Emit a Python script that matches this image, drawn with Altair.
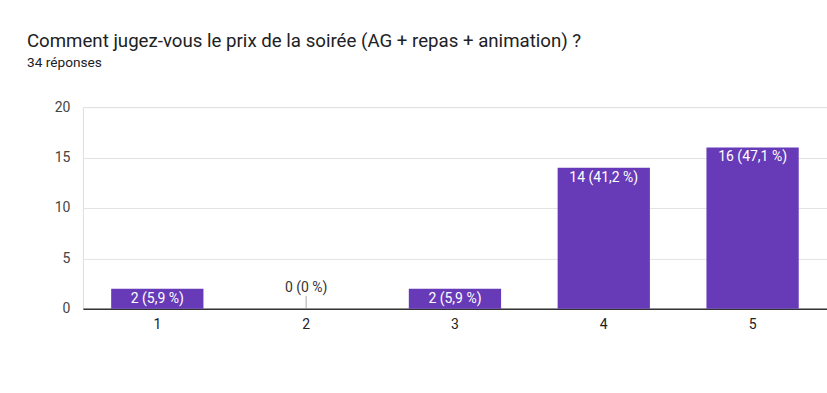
import altair as alt
import pandas as pd

categories = ["1", "2", "3", "4", "5"]
counts = [2, 0, 2, 14, 16]
labels = ["2 (5,9 %)", "0 (0 %)", "2 (5,9 %)", "14 (41,2 %)", "16 (47,1 %)"]

df = pd.DataFrame({"cat": categories, "count": counts, "label": labels})

FONT = "Roboto"
PURPLE = "#673ab7"

x = alt.X("cat:N", sort=categories, title=None,
          scale=alt.Scale(paddingInner=0.38, paddingOuter=0.19),
          axis=alt.Axis(labelAngle=0, ticks=False, domainColor="#333333", domainWidth=1.5,
                        labelFont=FONT, labelFontSize=14, labelColor="#222222", labelPadding=9))
y = alt.Y("count:Q", title=None,
          scale=alt.Scale(domain=[0, 20], nice=False),
          axis=alt.Axis(values=[0, 2.5, 5, 7.5, 10, 12.5, 15, 17.5, 20],
                        labelExpr="datum.value % 5 === 0 ? datum.label : ''",
                        domain=False, ticks=False, labelFont=FONT, labelFontSize=14,
                        labelColor="#444444", labelPadding=13,
                        gridColor={"condition": {"test": "datum.value % 5 === 0", "value": "#e3e3e3"},
                                   "value": "#f3f3f3"}))

bars = alt.Chart(df).mark_bar(color=PURPLE).encode(x=x, y=y)

inside = alt.Chart(df).transform_filter("datum.count > 0").mark_text(
    color="white", font=FONT, fontSize=14, baseline="top", dy=3
).encode(x=alt.X("cat:N", sort=categories), y="count:Q", text="label:N")

zero_tick = alt.Chart(df).transform_filter("datum.count == 0").mark_tick(
    orient="vertical", size=13, yOffset=-6.5, color="#888888", thickness=1
).encode(x=alt.X("cat:N", sort=categories), y="count:Q")

zero_label = alt.Chart(df).transform_filter("datum.count == 0").mark_text(
    color="#333333", font=FONT, fontSize=14, baseline="bottom", dy=-14
).encode(x=alt.X("cat:N", sort=categories), y="count:Q", text="label:N")

chart = alt.layer(bars, inside, zero_tick, zero_label).properties(
    width=745, height=202,
    title=alt.TitleParams(
        text="Comment jugez-vous le prix de la soirée (AG + repas + animation) ?",
        subtitle="34 réponses",
        anchor="start", frame="group", dx=-56, offset=30,
        font=FONT, fontSize=18.7, fontWeight="normal", color="#202124",
        subtitleFont=FONT, subtitleFontSize=13.7, subtitleColor="#202124", subtitlePadding=6,
    ),
    autosize=alt.AutoSizeParams(type="none"),
    padding={"left": 83, "top": 107, "right": 0, "bottom": 84},
).configure_view(stroke=None).configure(background="white")

chart.save("out.html", embed_options={"renderer": "svg", "actions": False})
